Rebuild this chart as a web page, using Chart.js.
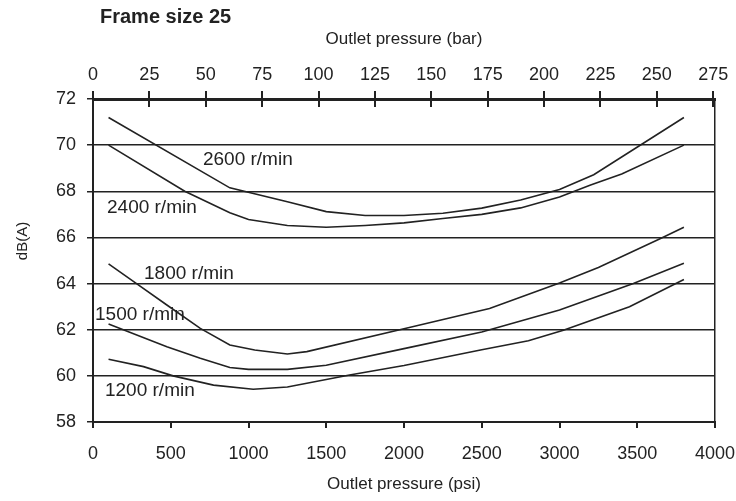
<!DOCTYPE html>
<html>
<head>
<meta charset="utf-8">
<script src="https://cdn.jsdelivr.net/npm/chart.js@4"></script>
<style>
  body { margin: 0; background: #fff; }
  canvas { display: block; }
</style>
</head>
<body>
<canvas id="noiseChart" width="736" height="501"></canvas>
<script>
// curve values: outlet pressure (psi) -> dB(A)
const psi2600 = [100, 880, 1250, 1500, 1750, 2000, 2250, 2500, 2750, 3000, 3220, 3800];
const db2600  = [71.2, 68.15, 67.55, 67.12, 66.95, 66.95, 67.05, 67.27, 67.62, 68.08, 68.72, 71.2];

const psi2400 = [100, 590, 880, 1000, 1250, 1500, 1750, 2000, 2250, 2500, 2750, 3000, 3200, 3400, 3800];
const db2400  = [70.0, 68.0, 67.07, 66.78, 66.52, 66.44, 66.52, 66.63, 66.82, 67.0, 67.28, 67.75, 68.27, 68.75, 70.0];

const psi1800 = [100, 280, 475, 690, 880, 1040, 1250, 1375, 2000, 2550, 3000, 3250, 3650, 3800];
const db1800  = [64.85, 64.0, 63.07, 62.06, 61.34, 61.12, 60.95, 61.05, 62.04, 62.92, 64.02, 64.7, 65.95, 66.44];

const psi1500 = [100, 475, 690, 880, 1000, 1250, 1500, 2000, 2500, 3000, 3475, 3800];
const db1500  = [62.25, 61.26, 60.76, 60.36, 60.28, 60.28, 60.46, 61.18, 61.9, 62.85, 64.0, 64.88];

const psi1200 = [100, 325, 515, 775, 1030, 1250, 1650, 2000, 2500, 2800, 3025, 3450, 3800];
const db1200  = [60.72, 60.4, 60.0, 59.6, 59.42, 59.52, 60.04, 60.45, 61.13, 61.52, 61.98, 63.0, 64.18];

const speedLabels = ["2600 r/min", "2400 r/min", "1800 r/min", "1500 r/min", "1200 r/min"];
// where each speed label sits, in data units (psi, dB)
const labelPsi = [707, 90, 328, 13, 77];
const labelDb  = [69.36, 67.3, 64.44, 62.65, 59.36];

const psiMax = 4000;
const psiPerBar = 14.5038;

const FONT = "'Liberation Sans', Arial, sans-serif";
const INK = "#222";

Chart.defaults.font.family = FONT;
Chart.defaults.color = INK;

function toPoints(xs, ys) {
    return xs.map((x, i) => ({ x: x, y: ys[i] }));
}

function curve(xs, ys) {
    return {
        data: toPoints(xs, ys),
        borderColor: INK,
        borderWidth: 1.6,
        pointRadius: 0,
        tension: 0,
        fill: false,
    };
}

const plainNumber = (v) => String(v);

// no extra room for the end labels, the plot box is fixed
function noPad(s) {
    s.paddingLeft = 0;
    s.paddingRight = 0;
    s.paddingTop = 0;
    s.paddingBottom = 0;
}

// title, y title, curve names and the inward half of the top ticks
const annotations = {
    id: "annotations",
    afterDatasetsDraw(chart) {
        const ctx = chart.ctx;
        const xs = chart.scales.x;
        const ys = chart.scales.y;
        ctx.save();
        ctx.fillStyle = INK;
        ctx.textBaseline = "middle";
        ctx.textAlign = "left";
        ctx.font = "19px " + FONT;
        speedLabels.forEach((txt, i) => {
            ctx.fillText(txt, xs.getPixelForValue(labelPsi[i]), ys.getPixelForValue(labelDb[i]));
        });
        ctx.restore();
    },
    afterDraw(chart) {
        const ctx = chart.ctx;
        const top = chart.scales.x2;
        ctx.save();
        ctx.strokeStyle = INK;
        ctx.lineWidth = 2;
        top.ticks.forEach((t) => {
            const px = Math.round(top.getPixelForValue(t.value));
            ctx.beginPath();
            ctx.moveTo(px, top.bottom);
            ctx.lineTo(px, top.bottom + 8);
            ctx.stroke();
        });
        ctx.fillStyle = INK;
        ctx.font = "bold 20px " + FONT;
        ctx.textAlign = "left";
        ctx.textBaseline = "middle";
        ctx.fillText("Frame size 25", chart.chartArea.left + 7, 17);

        // y axis title sits a bit above the middle in the original
        ctx.font = "15px " + FONT;
        ctx.textAlign = "center";
        ctx.translate(23, 241);
        ctx.rotate(-Math.PI / 2);
        ctx.fillText("dB(A)", 0, 0);
        ctx.restore();
    },
};

new Chart(document.getElementById("noiseChart").getContext("2d"), {
    type: "line",
    data: {
        datasets: [
            curve(psi2600, db2600),
            curve(psi2400, db2400),
            curve(psi1800, db1800),
            curve(psi1500, db1500),
            curve(psi1200, db1200),
        ],
    },
    options: {
        responsive: false,
        animation: false,
        layout: { padding: { left: 0, right: 21, top: 0, bottom: 0 } },
        plugins: {
            legend: { display: false },
            tooltip: { enabled: false },
        },
        scales: {
            x: {
                type: "linear",
                position: "bottom",
                min: 0,
                max: psiMax,
                ticks: { stepSize: 500, padding: 15, font: { size: 18 }, callback: plainNumber },
                grid: { drawOnChartArea: false, tickLength: 6, color: INK, lineWidth: 2 },
                border: { color: INK, width: 2 },
                title: { display: true, text: "Outlet pressure (psi)", font: { size: 17 }, padding: { top: 0, bottom: 6 } },
                afterFit: (s) => { s.height = 79; noPad(s); },
            },
            x2: {
                type: "linear",
                position: "top",
                min: 0,
                max: psiMax / psiPerBar,
                ticks: { stepSize: 25, includeBounds: false, padding: 5, font: { size: 18 }, callback: plainNumber },
                grid: { drawOnChartArea: false, tickLength: 8, color: INK, lineWidth: 2 },
                border: { color: INK, width: 3 },
                title: { display: true, text: "Outlet pressure (bar)", font: { size: 17 }, padding: { top: 29, bottom: 0 } },
                afterFit: (s) => { s.height = 99; noPad(s); },
            },
            y: {
                min: 58,
                max: 72,
                ticks: { stepSize: 2, padding: 11, font: { size: 18 }, callback: plainNumber },
                grid: { color: INK, lineWidth: 1.5, tickLength: 6 },
                border: { color: INK, width: 2 },
                afterFit: (s) => { s.width = 93; noPad(s); },
            },
            y2: {
                position: "right",
                ticks: { display: false },
                grid: { display: false },
                border: { color: INK, width: 1.5 },
                afterFit: (s) => { s.width = 0; noPad(s); },
            },
        },
    },
    plugins: [annotations],
});
</script>
</body>
</html>
